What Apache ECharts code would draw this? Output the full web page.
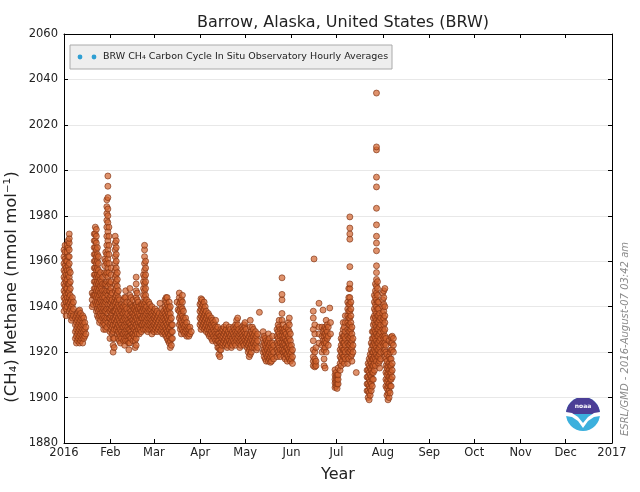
<!DOCTYPE html>
<html><head><meta charset="utf-8">
<script src="https://cdn.jsdelivr.net/npm/echarts@6/dist/echarts.min.js"></script>
<style>html,body{margin:0;padding:0;background:#fff}#c{width:640px;height:492px}</style>
</head><body><div id="c"></div>
<script>
// Day-of-year positions of month starts and their tick labels
const monthStarts = [0,31,60,91,121,152,182,213,244,274,305,335,366];
const monthLabels = ['2016','Feb','Mar','Apr','May','Jun','Jul','Aug','Sep','Oct','Nov','Dec','2017'];
const yMin = 1880, yMax = 2060, yStep = 20;

// Hourly CH4 values (nmol/mol), grouped by day-of-year: [day, [values...]]
const jan = [
 [0,[1938,1941,1944,1947,1950,1953,1956,1959,1962,1965]],
 [0.7,[1940,1943,1946,1949,1952,1955,1958,1961,1964,1967]],
 [1.4,[1936,1939,1942,1945,1948,1951,1954,1957,1960]],
 [2.1,[1940,1944,1948,1952,1956,1960,1964,1967]],
 [2.8,[1942,1946,1950,1954,1958,1962,1966,1969]],
 [3.5,[1938,1941,1944,1947,1950,1953,1956,1959,1962,1965,1968,1970,1972]],
 [4.2,[1936,1939,1942,1945,1948,1951,1955]],
 [4.9,[1934,1937,1940,1943]],
 [5.6,[1935,1938,1941,1944]],
 [6.3,[1936,1939,1942]],
 [7.6,[1926,1929,1932,1935]],
 [8.3,[1924,1927,1930,1933,1936]],
 [9,[1925,1928,1931,1934,1937]],
 [9.7,[1926,1929,1932,1935,1938]],
 [10.4,[1924,1927,1930,1933,1936,1938.5]],
 [11.1,[1925,1928,1931,1934,1937]],
 [11.8,[1926,1929,1932,1935]],
 [12.5,[1924,1927,1930,1933,1936]],
 [13.2,[1926,1929,1932,1935]],
 [13.9,[1927,1930,1933]],
 [14.6,[1928,1931]],
 [18.8,[1940,1943,1946]],
 [19.5,[1941,1945]],
 [20.2,[1945,1948,1951,1954,1957,1960,1963,1966,1969,1972]],
 [20.9,[1942,1945,1948,1951,1954,1957,1960,1963,1966,1969,1972,1975]],
 [21.6,[1938,1941,1944,1947,1950,1953,1956,1959,1962,1965,1968,1971,1974]],
 [22.3,[1936,1939,1942,1945,1948,1951,1954,1957,1960,1963,1966]],
 [23,[1935,1938,1941,1944,1947,1950,1953,1956,1959,1962]],
 [23.7,[1933,1936,1939,1942,1945,1948,1951,1954]],
 [24.4,[1934,1937,1940,1943,1946,1949,1952,1955]],
 [25.1,[1936,1939,1942,1945,1948,1951]],
 [25.8,[1932,1935,1938,1941,1944,1947,1950,1953]],
 [26.5,[1930,1933,1936,1939,1942,1945]],
 [27.2,[1932,1935,1938,1941,1944,1947,1950,1955,1958,1961]],
 [27.9,[1930,1934,1938,1942,1946,1950,1954,1960,1964]],
 [28.6,[1931,1935,1939,1943,1947,1951,1955,1959,1963,1967,1971,1975,1978,1981,1984,1987]],
 [29.3,[1933,1937,1941,1945,1949,1953,1957,1961,1965,1969,1973,1977,1980,1983,1988,1993,1997.5]],
 [30,[1935,1939,1943,1947,1951,1955,1959,1963,1967,1971,1975]]
];
const feb = [
 [30.7,[1926,1929,1932,1935,1938,1941,1944,1947,1950]],
 [31.4,[1930,1933,1936,1939,1942,1945,1948,1951,1954,1957]],
 [32.1,[1928,1931,1934,1937,1940,1943,1946]],
 [32.8,[1920,1923,1926,1929,1932,1935,1938,1941]],
 [33.5,[1922,1926,1930,1934,1938,1942]],
 [34.2,[1932,1935,1938,1941,1944,1947,1950,1953,1956,1959,1962,1965,1968,1971]],
 [34.9,[1930,1933,1936,1939,1942,1945,1948,1951,1954,1957,1960,1963,1966,1969]],
 [35.6,[1928,1931,1934,1937,1940,1943,1946,1949,1952,1955]],
 [36.3,[1926,1929,1932,1935,1938,1941,1944,1947]],
 [37,[1925,1928,1931,1934,1937,1940,1943]],
 [37.7,[1924,1927,1930,1933,1936,1939]],
 [38.4,[1926,1929,1932,1935,1938,1941]],
 [39.1,[1928,1931,1934,1937,1940]],
 [39.8,[1925,1928,1931,1934,1937,1940,1943]],
 [40.5,[1923,1926,1929,1932,1935,1938,1941,1944]],
 [41.2,[1925,1928,1931,1934,1937,1940,1944,1947]],
 [41.9,[1927,1930,1933,1936,1939,1942]],
 [42.6,[1925,1928,1931,1934,1937]],
 [43.3,[1921,1924,1927,1930,1933]],
 [44,[1924,1927,1930,1933,1936,1939,1942,1945,1948]],
 [44.7,[1926,1929,1932,1935,1938,1941,1944]],
 [45.4,[1928,1931,1934,1937,1940]],
 [46.1,[1925,1928,1931,1934,1937,1940,1943]],
 [46.8,[1927,1930,1933,1936,1939]],
 [47.5,[1922,1925,1928,1931,1934,1937,1940]],
 [48.2,[1923,1926,1929,1932,1935,1938,1941,1944,1947,1950,1953]],
 [48.9,[1928,1931,1934,1937,1940,1943,1946]],
 [49.6,[1930,1933,1936,1939,1942]],
 [50.3,[1928,1931,1934,1937,1940]],
 [51,[1930,1933,1936,1939]],
 [51.7,[1929,1932,1935,1938,1941]],
 [52.4,[1932,1935,1938,1941]],
 [53.1,[1930,1933,1936,1939,1942,1945,1948,1951,1954]],
 [53.8,[1932,1935,1938,1941,1944,1947,1950,1953,1956,1959,1962,1965,1967]],
 [54.5,[1930,1933,1936,1939,1942,1945,1948,1951,1954,1957,1960]],
 [55.2,[1931,1934,1937,1940,1943]],
 [55.9,[1929,1932,1935,1938]],
 [56.6,[1930,1933,1936,1939,1942]],
 [57.3,[1932,1935,1938,1941]],
 [58,[1930,1933,1936,1939]],
 [58.7,[1928,1931,1934,1937,1940]],
 [59.4,[1930,1933,1936]]
];
const mar = [
 [60.1,[1929,1932,1935,1938]],
 [60.8,[1930,1933,1936,1939]],
 [61.5,[1931,1934,1937]],
 [62.2,[1929,1932,1935,1938]],
 [62.9,[1930,1933,1936]],
 [63.6,[1931,1934,1937]],
 [64.1,[1941.5]],
 [64.5,[1929,1932,1935]],
 [65.2,[1930,1933,1936,1939]],
 [65.9,[1928,1931,1934,1937]],
 [66.6,[1929,1932,1935,1938]],
 [67.5,[1928,1931,1934,1937,1940,1943]],
 [68.2,[1927,1930,1933,1936,1939,1942,1944]],
 [68.9,[1926,1929,1932,1935,1938,1941,1944]],
 [69.6,[1925,1928,1931,1934,1937,1940]],
 [70.3,[1924,1927,1930,1933,1936,1939,1942]],
 [71,[1922,1925,1928,1931,1934,1937,1940]],
 [71.7,[1923,1926,1929,1932,1935]],
 [72.4,[1926,1929,1932]],
 [75.5,[1942]],
 [76.2,[1938.6]],
 [77,[1932,1935,1938,1941,1944,1946]],
 [77.7,[1930,1933,1936,1939,1942]],
 [78.4,[1928,1931,1934,1937,1940,1943]],
 [79.1,[1930,1933,1936,1939,1942,1945]],
 [79.8,[1929,1932,1935,1938]],
 [80.5,[1928,1931,1934]],
 [81.2,[1929,1932,1935]],
 [82,[1927,1930,1933]],
 [82.7,[1928,1931]],
 [83.4,[1927,1930]],
 [84.1,[1928,1931]],
 [85,[1929]]
];
const apr = [
 [90.8,[1932,1935,1938,1941]],
 [91.5,[1930,1933,1936,1939,1942,1943.5]],
 [92.2,[1931,1934,1937,1940,1943]],
 [92.9,[1932,1935,1938,1941]],
 [93.6,[1930,1933,1936,1939,1942]],
 [94.3,[1931,1934,1937,1940]],
 [95,[1929,1932,1935,1938]],
 [95.7,[1930,1933,1936]],
 [96.4,[1928,1931,1934,1937]],
 [97.1,[1927,1930,1933,1936]],
 [97.8,[1928,1931,1934]],
 [98.5,[1926,1929,1932,1935]],
 [99.2,[1925,1928,1931,1934]],
 [99.9,[1927,1930,1933]],
 [100.6,[1926,1929,1932]],
 [101.3,[1925,1928,1931,1934]],
 [102,[1924,1927,1930]],
 [102.7,[1922,1925,1928,1931]],
 [103.4,[1919,1922,1925,1928]],
 [104.1,[1918,1921,1924,1927]],
 [104.8,[1921,1924,1927,1930]],
 [105.5,[1923,1926,1929]],
 [106.2,[1924,1927,1930]],
 [106.9,[1925,1928,1931]],
 [107.6,[1923,1926,1929]],
 [108.3,[1924,1927,1930,1932]],
 [109,[1922,1925,1928]],
 [109.7,[1923,1926,1929]],
 [110.4,[1925,1928,1931]],
 [111.1,[1924,1927,1930]],
 [111.8,[1922,1925,1928]],
 [112.5,[1923,1926,1929]],
 [113.2,[1925,1928,1931]],
 [113.9,[1924,1927,1930]],
 [114.6,[1923,1926,1929,1932]],
 [115.3,[1925,1928,1931,1934]],
 [116,[1926,1929,1932,1935]],
 [116.7,[1924,1927,1930]],
 [117.4,[1922,1925,1928]],
 [118.1,[1923,1926,1929]],
 [118.8,[1925,1928,1931]],
 [119.5,[1924,1927,1930]],
 [120.2,[1923,1926,1929,1932]]
];
const may = [
 [120.9,[1925,1928,1931,1933]],
 [121.6,[1924,1927,1930]],
 [122.3,[1922,1925,1928]],
 [123,[1920,1923,1926]],
 [123.7,[1918,1921,1924,1927]],
 [124.4,[1919,1922,1925,1928,1931,1934]],
 [125.1,[1920,1923,1926,1929]],
 [125.8,[1922,1925,1928,1931]],
 [126.5,[1924,1927,1930]],
 [127.2,[1922,1925,1928]],
 [127.9,[1923,1926,1929]],
 [128.6,[1921,1924,1927]],
 [129.3,[1922,1925,1928]],
 [130.5,[1937.5]],
 [133,[1920,1923,1926,1929]],
 [133.7,[1918,1921,1924,1927]],
 [134.4,[1917,1920,1923,1926]],
 [135.1,[1916,1919,1922,1925]],
 [135.8,[1918,1921,1924]],
 [136.5,[1916,1919,1922,1925,1928]],
 [137.2,[1917,1920,1923,1926]],
 [137.9,[1915.5,1918,1921,1924]],
 [138.6,[1916,1919,1922]],
 [139.3,[1918,1921,1924,1927]],
 [140,[1917,1920,1923]],
 [142.3,[1918,1921,1924,1927,1930]],
 [143,[1920,1923,1926,1929,1932]],
 [143.7,[1919,1922,1925,1928,1931,1934]],
 [144.4,[1918,1921,1924,1927,1930]],
 [145.6,[1921,1924,1927,1930,1934,1937,1943,1945.4,1952.7]],
 [146.3,[1920,1923,1926,1929,1932]],
 [147,[1918,1921,1924,1927,1930]],
 [147.7,[1917,1920,1923,1926,1929]],
 [148.4,[1919,1922,1925,1928,1931]],
 [149.1,[1916,1919,1922,1925]],
 [149.8,[1918,1921,1924,1927,1930,1933]],
 [150.5,[1917,1920,1923,1926,1929,1932,1935]],
 [151.2,[1916,1919,1922,1925,1928]],
 [151.9,[1917,1920,1923]],
 [152.6,[1915,1918,1921]]
];
const jun = [
 [166.5,[1914,1916,1918,1921,1925,1930,1935,1938]],
 [167,[1961]],
 [167.5,[1913.5,1915,1917,1920,1928,1932]],
 [168.3,[1914,1916,1922]],
 [170.3,[1924,1928,1931,1941.5]],
 [172.3,[1920,1923,1927,1931]],
 [173,[1925,1929,1938.5]],
 [173.7,[1914,1917,1921,1924,1927,1930]],
 [174.4,[1913,1922,1925,1928,1931]],
 [175.1,[1920,1924,1927,1930,1934]],
 [175.8,[1926,1929,1932]],
 [176.5,[1923,1927,1931]],
 [177.5,[1939.4]],
 [178,[1928,1933]]
];
const jul = [
 [181,[1904.4,1906.4,1908,1910,1912.2]],
 [181.7,[1905,1907,1909,1911]],
 [182.4,[1904,1906,1908,1910]],
 [183.1,[1906,1908,1910,1913]],
 [184.4,[1912,1915,1918,1921]],
 [185.1,[1914,1917,1920,1923,1926]],
 [185.8,[1916,1919,1922,1925,1928]],
 [186.5,[1918,1921,1924,1927,1930,1933]],
 [187.2,[1915,1918,1921,1924,1927,1931]],
 [187.9,[1917,1920,1923,1926,1929,1933,1936]],
 [189.5,[1915,1918,1921,1924,1927,1930,1933,1936,1939,1942]],
 [190.2,[1917,1920,1923,1926,1929,1932,1935,1938,1941,1944,1948]],
 [190.9,[1920,1923,1926,1929,1932,1935,1938,1941,1944,1948,1950,1957.6,1969.7,1972,1974.6,1979.5]],
 [191.6,[1918,1921,1924,1927,1930,1933,1936,1939,1942]],
 [192.3,[1916,1919,1922,1925,1928,1931]],
 [193,[1920,1923,1926]],
 [195.2,[1911]],
 [202.4,[1903,1906,1909,1912]],
 [203.1,[1900,1903,1906,1909,1912,1915]],
 [203.8,[1899,1902,1905,1908,1911,1914,1917]],
 [204.5,[1901,1904,1907,1910,1913,1916,1919]],
 [205.2,[1903,1906,1909,1912,1915,1918,1921,1924]],
 [205.9,[1905,1908,1911,1914,1917,1920,1923,1926,1929]],
 [206.6,[1908,1911,1914,1917,1920,1923,1926,1929,1932,1935]],
 [207.3,[1912,1915,1918,1921,1924,1927,1930,1933,1936,1939,1942,1945]],
 [208,[1914,1917,1920,1923,1926,1929,1932,1935,1938,1941,1944,1947,1950]],
 [208.7,[1916,1919,1922,1925,1928,1931,1934,1937,1940,1943,1946,1949,1952,1955,1958,1964.6,1968,1971,1976,1983.3,1992.7,1997,2009,2010.3,2034]],
 [209.4,[1918,1921,1924,1927,1930,1933,1936,1939,1942,1945,1948,1951]],
 [210.1,[1915,1918,1921,1924,1927,1930,1933,1936,1939,1942]],
 [210.8,[1913,1916,1919,1922,1925,1928,1931,1934,1937]],
 [211.5,[1917,1920,1923,1926,1929,1932,1935]],
 [212.9,[1924,1927,1930,1934,1937,1940,1943,1946]]
];
const aug = [
 [213.6,[1920,1923,1926,1929,1932,1935,1938,1941,1944,1947]],
 [214.3,[1918,1921,1924,1927,1930,1933,1936,1940,1948]],
 [215,[1905,1908,1911,1914,1917,1920,1923,1926]],
 [215.7,[1901,1904,1907,1910,1913,1916,1919]],
 [216.4,[1899,1902,1905,1908,1911,1914]],
 [217.1,[1900,1903,1906,1909,1912,1915,1918,1925]],
 [217.8,[1902,1905,1908,1911,1914,1917,1920]],
 [218.5,[1905,1908,1911,1914,1917,1921,1924,1926.6]],
 [219.2,[1909,1912,1915,1921,1924,1927]],
 [220,[1920,1923,1926]]
];

const points = [];
[jan, feb, mar, apr, may, jun, jul, aug].forEach(m => m.forEach(([d, vals]) => vals.forEach(v => points.push([d, v]))));

const chart = echarts.init(document.getElementById('c'), null, {renderer: 'canvas'});
const FONT = 'DejaVu Sans';
chart.setOption({
  animation: false,
  backgroundColor: '#fff',
  title: {
    text: 'Barrow, Alaska, United States (BRW)', left: 338, top: 10, textAlign: 'center',
    textStyle: {fontFamily: FONT, fontSize: 16, fontWeight: 'normal', color: '#222'}
  },
  grid: {left: 64, right: 28, top: 34, bottom: 49, containLabel: false},
  xAxis: [
    {
      type: 'value', position: 'bottom', min: 0, max: 366,
      name: 'Year', nameLocation: 'middle', nameGap: 24,
      nameTextStyle: {fontFamily: FONT, fontSize: 16, color: '#222'},
      axisLine: {show: true, onZero: false, lineStyle: {color: '#000', width: 1}},
      axisTick: {show: true, inside: true, length: 4, customValues: monthStarts, lineStyle: {color: '#000'}},
      axisLabel: {show: true, customValues: monthStarts, margin: 4, fontFamily: FONT, fontSize: 11.5, color: '#222',
        formatter: v => monthLabels[monthStarts.indexOf(Math.round(v))] || ''},
      splitLine: {show: false}
    },
    {
      type: 'value', position: 'top', min: 0, max: 366,
      axisLine: {show: true, onZero: false, lineStyle: {color: '#000', width: 1}},
      axisTick: {show: true, inside: true, length: 4, customValues: monthStarts, lineStyle: {color: '#000'}},
      axisLabel: {show: false}, splitLine: {show: false}
    }
  ],
  yAxis: [
    {
      type: 'value', min: yMin, max: yMax, interval: yStep, position: 'left',
      axisLine: {show: true, onZero: false, lineStyle: {color: '#000', width: 1}},
      axisTick: {show: true, inside: true, length: 4, lineStyle: {color: '#000'}},
      axisLabel: {fontFamily: FONT, fontSize: 11.5, color: '#222', margin: 6, formatter: v => String(v)},
      splitLine: {show: true, lineStyle: {color: '#e8e8e8', width: 1}}
    },
    {
      type: 'value', min: yMin, max: yMax, interval: yStep, position: 'right',
      axisLine: {show: true, onZero: false, lineStyle: {color: '#000', width: 1}},
      axisTick: {show: true, inside: true, length: 4, lineStyle: {color: '#000'}},
      axisLabel: {show: false}, splitLine: {show: false}
    }
  ],
  series: [{
    type: 'scatter', xAxisIndex: 0, yAxisIndex: 0,
    data: points, symbol: 'circle', symbolSize: 6,
    itemStyle: {color: 'rgba(210,100,45,0.88)', borderColor: 'rgba(125,48,16,0.9)', borderWidth: 0.9},
    silent: true
  }],
  graphic: [
    {type: 'rect', shape: {x: 70, y: 45, width: 322, height: 24}, style: {fill: '#eeeeee', stroke: '#aaaaaa', lineWidth: 1}},
    {type: 'circle', shape: {cx: 80, cy: 57, r: 2.4}, style: {fill: '#2f9fd3'}},
    {type: 'circle', shape: {cx: 94, cy: 57, r: 2.4}, style: {fill: '#2f9fd3'}},
    {type: 'text', x: 103, y: 57, style: {text: 'BRW CH\u2084 Carbon Cycle In Situ Observatory Hourly Averages', fontFamily: FONT, fontSize: 9.5, fill: '#222', textVerticalAlign: 'middle', textAlign: 'left'}},
    {type: 'text', x: 12, y: 287, rotation: Math.PI / 2, style: {text: '(CH\u2084) Methane (nmol mol\u207B\u00B9)', fontFamily: FONT, fontSize: 16.5, fill: '#222', textAlign: 'center', textVerticalAlign: 'middle'}},
    {type: 'text', x: 625, y: 339, rotation: Math.PI / 2, style: {text: 'ESRL/GMD - 2016-August-07 03:42 am', fontFamily: FONT, fontStyle: 'italic', fontSize: 10, fill: '#8a8a8a', textAlign: 'center', textVerticalAlign: 'middle'}},
    {type: 'circle', shape: {cx: 583, cy: 414, r: 17}, style: {fill: '#3cb0dd'}},
    {type: 'sector', shape: {cx: 583, cy: 414, r: 17, r0: 0, startAngle: Math.PI, endAngle: Math.PI * 2}, style: {fill: '#4b3e96'}},
    {type: 'polygon', shape: {points: [[566,412],[572,413],[578,417],[583,423],[588,417],[594,413],[600,412],[600,416],[594,417],[588,421],[583,428],[578,421],[572,417],[566,416]]}, style: {fill: '#ffffff'}},
    {type: 'text', x: 583, y: 406, style: {text: 'noaa', fontFamily: FONT, fontSize: 6, fontWeight: 'bold', fill: '#ffffff', textAlign: 'center', textVerticalAlign: 'middle'}}
  ]
});
</script>
</body></html>
